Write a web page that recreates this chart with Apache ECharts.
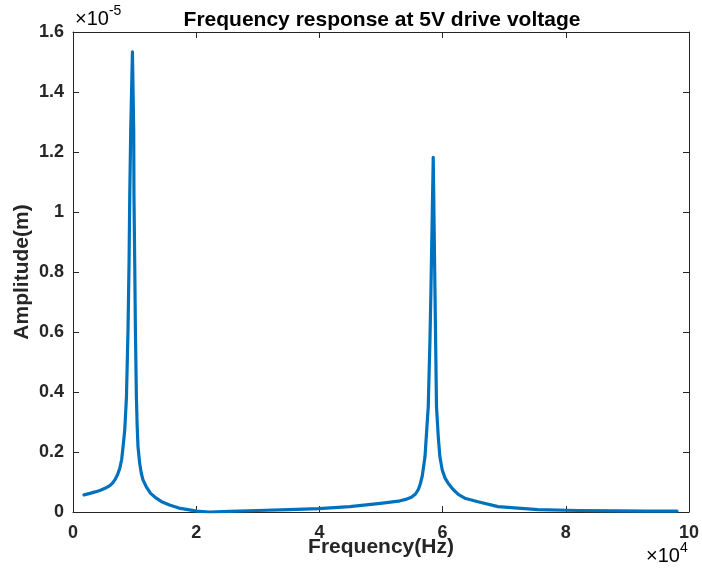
<!DOCTYPE html>
<html>
<head>
<meta charset="utf-8">
<script src="https://cdn.jsdelivr.net/npm/echarts@6/dist/echarts.min.js"></script>
<style>
html,body{margin:0;padding:0;background:#fff;}
#chart{width:702px;height:575px;}
</style>
</head>
<body>
<div id="chart"></div>
<script>
// Frequency in Hz
const freqHz = [1780, 2750, 3600, 4360, 5200, 5980, 6400, 6790, 7200, 7590, 7900, 8130, 8400, 8680, 8930, 9100, 9210, 9370, 9650, 9855, 9900, 10020, 10130, 10290, 10420, 10550, 10820, 11080, 11360, 11900, 12600, 13520, 14500, 15670, 17200, 18900, 20030, 22130, 25360, 29890, 35060, 39900, 44910, 49920, 52830, 54000, 54930, 55600, 56060, 56400, 56700, 57140, 57670, 57950, 58110, 58480, 58760, 59010, 59300, 59560, 59940, 60400, 60900, 61710, 62600, 63600, 65750, 69000, 75450, 81900, 88370, 93210, 98060];
// Amplitude in units of 1e-5 m
const ampE5 = [0.057, 0.062, 0.067, 0.072, 0.079, 0.088, 0.096, 0.107, 0.123, 0.145, 0.175, 0.218, 0.273, 0.384, 0.607, 0.83, 1.05, 1.27, 1.534, 1.27, 1.05, 0.83, 0.607, 0.384, 0.285, 0.218, 0.163, 0.13, 0.107, 0.084, 0.062, 0.046, 0.033, 0.023, 0.013, 0.007, 0.003, 0.000, 0.002, 0.005, 0.008, 0.011, 0.018, 0.029, 0.036, 0.042, 0.049, 0.060, 0.075, 0.095, 0.12, 0.184, 0.351, 0.573, 0.74, 1.182, 0.74, 0.351, 0.25, 0.184, 0.14, 0.113, 0.096, 0.075, 0.058, 0.046, 0.034, 0.018, 0.008, 0.005, 0.004, 0.003, 0.003];

const xTickLabels = ['0', '2', '4', '6', '8', '10'];       // ×10^4 Hz
const yTickLabels = ['0', '0.2', '0.4', '0.6', '0.8', '1', '1.2', '1.4', '1.6']; // ×10^-5 m

const titleText = 'Frequency response at 5V drive voltage';
const xName = 'Frequency(Hz)';
const yName = 'Amplitude(m)';

const seriesData = freqHz.map((f, i) => [f, ampE5[i]]);

const AX = '#262626';
const FONT = 'Liberation Sans, Arial, sans-serif';

const chart = echarts.init(document.getElementById('chart'), null, {renderer: 'canvas'});

const baseX = {
  type: 'value', min: 0, max: 100000, interval: 20000,
  axisLine: {show: true, onZero: false, lineStyle: {color: AX, width: 1}},
  axisTick: {show: true, inside: true, length: 6, lineStyle: {color: AX}},
  splitLine: {show: false}
};
const baseY = {
  type: 'value', min: 0, max: 1.6, interval: 0.2,
  axisLine: {show: true, onZero: false, lineStyle: {color: AX, width: 1}},
  axisTick: {show: true, inside: true, length: 6, lineStyle: {color: AX}},
  splitLine: {show: false}
};

chart.setOption({
  animation: false,
  backgroundColor: '#fff',
  title: {
    text: titleText, left: 377, top: 5, textAlign: 'center',
    textStyle: {fontFamily: FONT, fontWeight: 'bold', fontSize: 21, color: '#000'}
  },
  grid: {left: 73, right: 10, top: 32, bottom: 63, containLabel: false},
  xAxis: [
    Object.assign({}, baseX, {
      position: 'bottom',
      name: xName, nameLocation: 'middle', nameGap: 25, nameMoveOverlap: false,
      nameTextStyle: {fontFamily: FONT, fontWeight: 'bold', fontSize: 21, color: AX, verticalAlign: 'top'},
      axisLabel: {
        show: true, margin: 12, showMinLabel: true, showMaxLabel: true,
        fontFamily: FONT, fontWeight: 'bold', fontSize: 18, color: AX,
        formatter: (v) => xTickLabels[Math.round(v / 20000)]
      }
    }),
    Object.assign({}, baseX, {position: 'top', axisLabel: {show: false}})
  ],
  yAxis: [
    Object.assign({}, baseY, {
      position: 'left',
      name: yName, nameLocation: 'middle', nameGap: 40, nameMoveOverlap: false,
      nameTextStyle: {fontFamily: FONT, fontWeight: 'bold', fontSize: 21, color: AX},
      axisLabel: {
        show: true, margin: 9, showMinLabel: true, showMaxLabel: true,
        fontFamily: FONT, fontWeight: 'bold', fontSize: 18, color: AX,
        formatter: (v) => yTickLabels[Math.round(v / 0.2)]
      }
    }),
    Object.assign({}, baseY, {position: 'right', axisLabel: {show: false}})
  ],
  graphic: [
    {
      type: 'text', left: 75, top: 4,
      style: {
        text: '{a|×10}{b|-5}',
        rich: {
          a: {fontFamily: FONT, fontSize: 20, color: AX, verticalAlign: 'bottom', lineHeight: 25},
          b: {fontFamily: FONT, fontSize: 14, color: AX, verticalAlign: 'top', lineHeight: 25}
        }
      }
    },
    {
      type: 'text', left: 646, top: 541,
      style: {
        text: '{a|×10}{b|4}',
        rich: {
          a: {fontFamily: FONT, fontSize: 20, color: AX, verticalAlign: 'bottom', lineHeight: 25},
          b: {fontFamily: FONT, fontSize: 14, color: AX, verticalAlign: 'top', lineHeight: 25}
        }
      }
    }
  ],
  series: [{
    type: 'line',
    xAxisIndex: 0, yAxisIndex: 0,
    data: seriesData,
    showSymbol: false,
    smooth: false,
    lineStyle: {color: '#0072BD', width: 3.2, join: 'round', cap: 'round'},
    z: 1
  }]
});
</script>
</body>
</html>
